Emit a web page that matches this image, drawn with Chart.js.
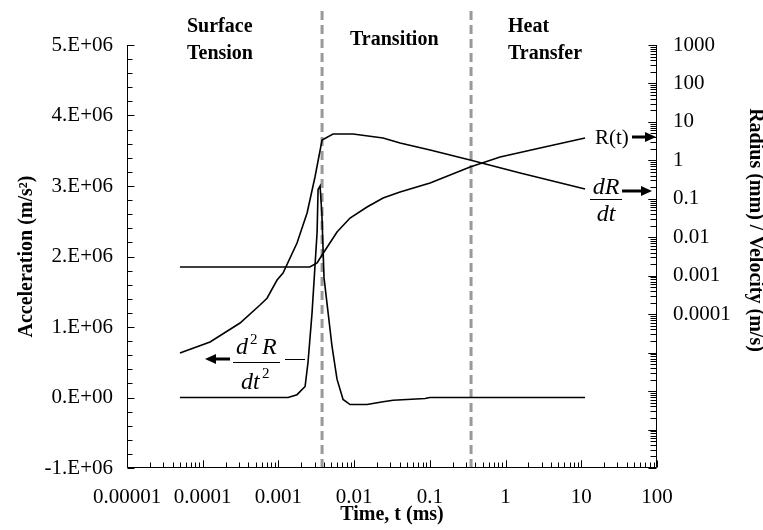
<!DOCTYPE html>
<html>
<head>
<meta charset="utf-8">
<script src="https://cdn.jsdelivr.net/npm/chart.js@4.4.1/dist/chart.umd.min.js"></script>
<style>
  html, body { margin: 0; padding: 0; background: #fff; }
</style>
</head>
<body>
<canvas id="chart" width="763" height="530"></canvas>
<script>
// time (ms) and values
const timeR = [5.0e-5, 2.6e-3, 3.24e-3, 3.77e-3, 5.94e-3, 8.83e-3, 0.0148, 0.0241, 0.0404, 0.1007, 0.34, 0.846, 2.86, 11.2];
const radius = [0.00168, 0.00168, 0.00214, 0.00345, 0.0137, 0.0317, 0.0612, 0.105, 0.15, 0.258, 0.671, 1.22, 2.1, 3.81];

const timeV = [5.0e-5, 1.25e-4, 3.11e-4, 5.71e-4, 7.07e-4, 9.59e-4, 1.15e-3, 1.76e-3, 2.39e-3, 3.04e-3, 3.77e-3, 5.26e-3, 9.67e-3, 0.0241, 0.0404, 0.1007, 0.34, 1.56, 11.2];
const velocity = [9.8e-6, 1.89e-5, 5.89e-5, 1.73e-4, 2.6e-4, 7.73e-4, 1.17e-3, 7.08e-3, 0.0428, 0.369, 3.38, 4.84, 4.84, 3.81, 2.83, 1.86, 1.02, 0.469, 0.18];

const timeA = [5.0e-5, 1.34e-3, 1.76e-3, 2.25e-3, 2.46e-3, 2.78e-3, 3.24e-3, 3.34e-3, 3.55e-3, 3.75e-3, 4.0e-3, 5.11e-3, 5.94e-3, 7.14e-3, 8.83e-3, 0.0148, 0.0241, 0.0327, 0.0865, 0.1, 11.2];
const accel = [0, 0, 4e4, 1.56e5, 5.0e5, 1.2e6, 2.34e6, 2.95e6, 3.0e6, 2.6e6, 1.7e6, 7.2e5, 2.6e5, -2.8e4, -1.0e5, -1.0e5, -6e4, -4e4, -1.5e4, 0, 0];

const regionBounds = [0.00377, 0.35];

const xTicks = [1e-5, 1e-4, 1e-3, 1e-2, 1e-1, 1, 10, 100];
const xTickLabels = ['0.00001', '0.0001', '0.001', '0.01', '0.1', '1', '10', '100'];
const accelTicks = [-1e6, 0, 1e6, 2e6, 3e6, 4e6, 5e6];
const accelLabels = ['-1.E+06', '0.E+00', '1.E+06', '2.E+06', '3.E+06', '4.E+06', '5.E+06'];
const rightTicks = [1e-4, 1e-3, 1e-2, 1e-1, 1, 10, 100, 1000];
const rightLabels = ['0.0001', '0.001', '0.01', '0.1', '1', '10', '100', '1000'];

const serif = "'Liberation Serif', 'Times New Roman', serif";

function toPoints(xs, ys) {
  return xs.map((x, i) => ({ x: x, y: ys[i] }));
}

function zeroPad(s) {
  s.paddingTop = 0; s.paddingBottom = 0; s.paddingLeft = 0; s.paddingRight = 0;
}

function arrow(ctx, x1, x2, y) {
  // shaft from x1 to x2, head at x2
  const dir = x2 > x1 ? 1 : -1;
  ctx.lineWidth = 3;
  ctx.beginPath();
  ctx.moveTo(x1, y);
  ctx.lineTo(x2 - dir * 9, y);
  ctx.stroke();
  ctx.beginPath();
  ctx.moveTo(x2, y);
  ctx.lineTo(x2 - dir * 11, y - 5);
  ctx.lineTo(x2 - dir * 11, y + 5);
  ctx.closePath();
  ctx.fill();
}

const decorations = {
  id: 'decorations',
  afterDraw(chart) {
    const { ctx, chartArea: { left, right, top, bottom }, scales: { x, y, y2 } } = chart;
    ctx.save();
    ctx.strokeStyle = '#000';
    ctx.fillStyle = '#000';
    ctx.lineWidth = 1;

    const L = Math.round(left) + 0.5, R = Math.round(right) - 0.5, B = Math.round(bottom) - 0.5;
    ctx.beginPath();
    ctx.moveTo(L, top); ctx.lineTo(L, B); ctx.lineTo(R, B); ctx.lineTo(R, top);
    // x ticks (log, inward)
    for (let e = -5; e <= 1; e++) {
      for (let m = 1; m <= 10; m++) {
        const v = m * Math.pow(10, e);
        const px = Math.round(x.getPixelForValue(v)) + 0.5;
        ctx.moveTo(px, B); ctx.lineTo(px, B - (m === 1 || m === 10 ? 7 : 5));
      }
    }
    // left ticks every 2E5
    for (let i = 0; i <= 30; i++) {
      const v = -1e6 + i * 2e5;
      const py = Math.round(y.getPixelForValue(v)) + 0.5;
      ctx.moveTo(L, py); ctx.lineTo(L + (i % 5 === 0 ? 7 : 5), py);
    }
    // right ticks (log)
    for (let e = -8; e <= 2; e++) {
      for (let m = 1; m <= 10; m++) {
        const v = m * Math.pow(10, e);
        const py = Math.round(y2.getPixelForValue(v)) + 0.5;
        ctx.moveTo(R, py); ctx.lineTo(R - (m === 1 || m === 10 ? 8 : 6), py);
      }
    }
    ctx.stroke();

    // region titles
    ctx.font = 'bold 20px ' + serif;
    ctx.textAlign = 'left';
    ctx.textBaseline = 'alphabetic';
    ctx.fillText('Surface', 187, 32);
    ctx.fillText('Tension', 187, 59);
    ctx.fillText('Transition', 350, 45);
    ctx.fillText('Heat', 508, 32);
    ctx.fillText('Transfer', 508, 59);

    // R(t) label
    ctx.font = '21px ' + serif;
    ctx.textBaseline = 'middle';
    ctx.fillText('R(t)', 595, 138);
    arrow(ctx, 632, 656, 137);

    // dR/dt label
    ctx.font = 'italic 24px ' + serif;
    ctx.textAlign = 'center';
    ctx.textBaseline = 'alphabetic';
    ctx.fillText('dR', 606, 194);
    ctx.fillText('dt', 606, 221);
    ctx.lineWidth = 1;
    ctx.beginPath(); ctx.moveTo(590, 199.5); ctx.lineTo(622, 199.5); ctx.stroke();
    arrow(ctx, 622, 652, 191);

    // d2R/dt2 label
    ctx.textAlign = 'left';
    ctx.font = 'italic 24px ' + serif;
    ctx.fillText('d', 236, 354);
    ctx.fillText('R', 262, 354);
    ctx.fillText('dt', 241, 389);
    ctx.font = '15px ' + serif;
    ctx.fillText('2', 250, 344);
    ctx.fillText('2', 262, 378);
    ctx.lineWidth = 1;
    ctx.beginPath();
    ctx.moveTo(233, 362.5); ctx.lineTo(280, 362.5);
    ctx.moveTo(285, 359.5); ctx.lineTo(305, 359.5);
    ctx.stroke();
    arrow(ctx, 230, 205, 359);

    // right axis title
    ctx.translate(755, 230);
    ctx.rotate(Math.PI / 2);
    ctx.font = 'bold 20px ' + serif;
    ctx.textAlign = 'center';
    ctx.textBaseline = 'middle';
    ctx.fillText('Radius (mm) / Velocity (m/s)', 0, 0);
    ctx.restore();
  }
};

const ctx = document.getElementById('chart').getContext('2d');

const chart = new Chart(ctx, {
  type: 'line',
  data: {
    datasets: [
      { label: 'd2R/dt2', data: toPoints(timeA, accel), yAxisID: 'y', borderColor: '#000', borderWidth: 1.6 },
      { label: 'R(t)', data: toPoints(timeR, radius), yAxisID: 'y2', borderColor: '#000', borderWidth: 1.6 },
      { label: 'dR/dt', data: toPoints(timeV, velocity), yAxisID: 'y2', borderColor: '#000', borderWidth: 1.6 },
      ...regionBounds.map(t => ({
        label: 'bound',
        data: [{ x: t, y: -1e6 }, { x: t, y: 5.5e6 }],
        yAxisID: 'y',
        borderColor: '#999999',
        borderWidth: 3,
        borderDash: [9, 5],
        clip: false
      }))
    ]
  },
  options: {
    responsive: false,
    animation: false,
    layout: { padding: { top: 45 } },
    elements: { point: { radius: 0 }, line: { tension: 0 } },
    plugins: { legend: { display: false }, tooltip: { enabled: false } },
    scales: {
      x: {
        type: 'logarithmic',
        position: 'bottom',
        min: 1e-5,
        max: 100,
        grid: { display: false, drawTicks: false },
        border: { display: false },
        afterBuildTicks: s => { s.ticks = xTicks.map(v => ({ value: v })); },
        afterFit: s => { s.height = 62; zeroPad(s); },
        ticks: {
          autoSkip: false, maxRotation: 0, padding: 17, color: '#000',
          font: { family: serif, size: 21 },
          callback: (v, i) => xTickLabels[i]
        },
        title: {
          display: true, text: 'Time, t (ms)', color: '#000',
          font: { family: serif, size: 20, weight: 'bold' },
          padding: { top: 0, bottom: 3 }
        }
      },
      y: {
        type: 'linear',
        position: 'left',
        min: -1e6,
        max: 5e6,
        grid: { display: false, drawTicks: false },
        border: { display: false },
        afterBuildTicks: s => { s.ticks = accelTicks.map(v => ({ value: v })); },
        afterFit: s => { s.width = 127; zeroPad(s); },
        ticks: {
          autoSkip: false, padding: 14, color: '#000',
          font: { family: serif, size: 21 },
          callback: (v, i) => accelLabels[i]
        },
        title: {
          display: true, text: 'Acceleration (m/s²)', color: '#000',
          font: { family: serif, size: 20, weight: 'bold' },
          padding: { top: 15, bottom: 0 }
        }
      },
      y2: {
        type: 'logarithmic',
        position: 'right',
        min: 1e-8,
        max: 1000,
        grid: { display: false, drawTicks: false },
        border: { display: false },
        afterBuildTicks: s => { s.ticks = rightTicks.map(v => ({ value: v })); },
        afterFit: s => { s.width = 106; zeroPad(s); },
        ticks: {
          autoSkip: false, padding: 16, color: '#000',
          font: { family: serif, size: 21 },
          callback: (v, i) => rightLabels[i]
        }
      }
    }
  },
  plugins: [decorations]
});
</script>
</body>
</html>
